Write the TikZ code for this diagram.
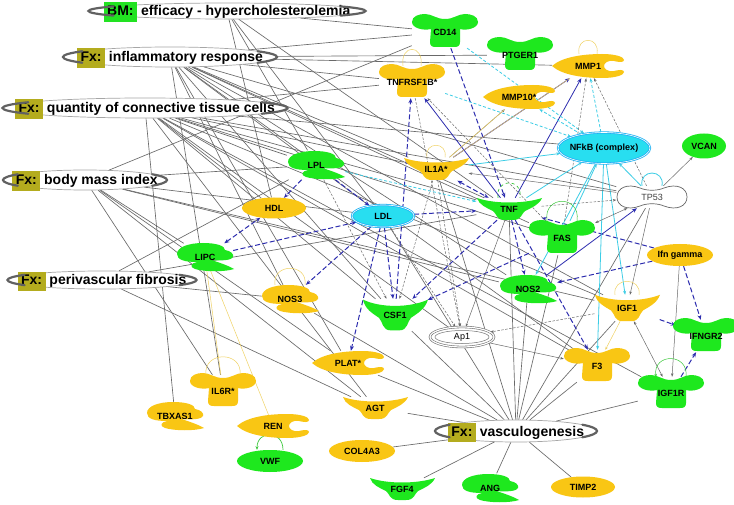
\documentclass[tikz,border=0pt]{standalone}
\usepackage{fontspec}
\setmainfont{Liberation Sans}
\usetikzlibrary{arrows.meta,shapes.geometric}
\pgfdeclarelayer{bg}\pgfdeclarelayer{edges}
\pgfsetlayers{bg,edges,main}
\definecolor{ipagreen}{RGB}{30,232,30}
\definecolor{ipayellow}{RGB}{249,198,20}
\definecolor{ipacyan}{RGB}{40,222,240}
\definecolor{fxolive}{RGB}{180,172,30}
\definecolor{bmgreen}{RGB}{34,226,34}
\definecolor{edgeblue}{RGB}{45,45,175}
\definecolor{edgecyan}{RGB}{60,205,230}
\definecolor{edgegray}{RGB}{105,105,105}
\definecolor{edgeyellow}{RGB}{240,210,100}
\definecolor{loopgreen}{RGB}{60,200,60}
\newcommand\molfont{\fontsize{9}{10}\selectfont\bfseries}
\newcommand\mollight{\fontsize{9}{10}\selectfont\mdseries\color{black!75}}
\newcommand\fxfont{\fontsize{14}{16}\selectfont\bfseries}
\newcommand\fxbox[2]{{\setlength{\fboxsep}{2.5pt}\colorbox{#1}{\hspace{1pt}\rule[-3.5pt]{0pt}{14.5pt}#2\hspace{1pt}}}}
\newcommand\fxtext[3]{\smash{\makebox[0pt]{\raisebox{-5pt}{\fxbox{#1}{#2}\ #3}}}}
\newcommand\fxends[3]{%
  \draw[fxend] (#1.center) ++(145:#2pt and #3pt) arc[start angle=145,end angle=215,x radius=#2pt,y radius=#3pt];
  \draw[fxend] (#1.center) ++(-35:#2pt and #3pt) arc[start angle=-35,end angle=35,x radius=#2pt,y radius=#3pt];}
\newcommand\mol[7]{%
  \pic at (#2) {#3={#4}};
  \node[lbl, minimum width=#6pt, minimum height=#7pt] (#1) at (#2) {\makebox[0pt]{#5}};}
\tikzset{
  pics/receptor/.style={code={\fill[#1] (-14,-3) .. controls (-22,-1) and (-33,-4) .. (-33,-10)
     .. controls (-33,-16) and (-26,-18) .. (-20,-18) .. controls (-13,-18) and (-9,-13) .. (0,-13)
     .. controls (9,-13) and (13,-18) .. (20,-18) .. controls (26,-18) and (33,-16) .. (33,-10)
     .. controls (33,-4) and (22,-1) .. (15,-3) -- (15,10) .. controls (15,14) and (13,15) .. (9,15)
     -- (-9,15) .. controls (-13,15) and (-15,14) .. (-15,10) -- cycle;}},
  pics/cytokine/.style={code={\fill[#1] (-32,-11) .. controls (-15,-5) and (15,-5) .. (33,-11)
     .. controls (30,-4) and (22,-1) .. (16,2) .. controls (12,5) and (13,11) .. (4,11)
     -- (-4,11) .. controls (-13,11) and (-12,5) .. (-16,2) .. controls (-22,-1) and (-30,-4) .. (-32,-11) -- cycle;}},
  pics/enzyme/.style={code={\fill[#1] (-28,-3) .. controls (-28,-10) and (-16,-14) .. (-2,-14)
     .. controls (12,-14) and (20,-11) .. (20,-7) .. controls (26,-6) and (29,-3) .. (28,0)
     .. controls (27,3) and (18,4) .. (6,3) .. controls (16,6) and (24,9) .. (29,12)
     .. controls (20,15) and (0,15) .. (-10,12) .. controls (-16,10) and (-14,6) .. (-8,5)
     .. controls (-20,5) and (-28,3) .. (-28,-3) -- cycle;}},
  pics/peptidase/.style={code={\fill[#1] (-36,0) .. controls (-26,-9) and (-5,-12) .. (14,-12)
     .. controls (28,-12) and (36,-9) .. (36,-6) .. controls (36,-3) and (30,-4) .. (26,-5)
     .. controls (20,-6) and (16,-3) .. (16,0) .. controls (16,3) and (20,6) .. (26,5)
     .. controls (30,4) and (36,3) .. (36,6) .. controls (36,9) and (28,12) .. (14,12)
     .. controls (-5,12) and (-26,9) .. (-36,0) -- cycle;}},
  pics/peanut/.style={code={\filldraw[fill=white, draw=black!60, line width=0.7pt]
     (-12,-9) .. controls (-25,-14) and (-35,-9) .. (-35,0) .. controls (-35,9) and (-25,14) .. (-12,9)
     .. controls (-5,6) and (5,6) .. (12,9) .. controls (25,14) and (35,9) .. (35,0)
     .. controls (35,-9) and (25,-14) .. (12,-9) .. controls (5,-6) and (-5,-6) .. (-12,-9) -- cycle;}},
  lbl/.style={rectangle, inner sep=0pt, font=\molfont, text=black},
  mell/.style={ellipse, inner sep=0pt, font=\molfont, text=black},
  cplx/.style={mell, fill=ipacyan, draw=ipacyan!80!blue, line width=0.8pt, double=white, double distance=0.6pt},
  fxell/.style={ellipse, draw=black!35, line width=0.7pt, fill=white, inner sep=0pt, font=\fxfont},
  fxend/.style={draw=black!62, line width=2.2pt, line cap=round},
  fnline/.style={draw=edgegray, line width=0.65pt},
  bdash/.style={draw=edgeblue, line width=1pt, dash pattern=on 5pt off 2.5pt, -{Stealth[length=5pt,width=4pt]}},
  bdboth/.style={bdash, {Stealth[length=5pt,width=4pt]}-{Stealth[length=5pt,width=4pt]}},
  bsolid/.style={draw=edgeblue, line width=0.8pt, -{Stealth[length=5pt,width=4pt]}},
  csolid/.style={draw=edgecyan, line width=0.8pt, -{Stealth[length=4pt,width=3pt]}},
  cdash/.style={csolid, dash pattern=on 3pt off 2pt},
  gdash/.style={draw=edgegray, line width=0.5pt, dash pattern=on 2.5pt off 1.5pt, -{Stealth[length=3.5pt,width=2.5pt]}},
  gsolid/.style={draw=edgegray, line width=0.5pt, -{Stealth[length=3.5pt,width=2.5pt]}},
  gboth/.style={gsolid, {Stealth[length=3.5pt,width=2.5pt]}-{Stealth[length=3.5pt,width=2.5pt]}},
  yline/.style={draw=edgeyellow, line width=0.5pt},
  gline/.style={draw=loopgreen, line width=0.7pt}
}
\begin{document}
\begin{tikzpicture}[x=1pt,y=-1pt]
\begin{pgfonlayer}{bg}\fill[white] (0,0) rectangle (734,505);\end{pgfonlayer}
\useasboundingbox (0,0) rectangle (734,505);
% ---------- function nodes
\node[fxell, minimum width=277pt, minimum height=16pt] (bm) at (227,11) {\fxtext{bmgreen}{BM:}{efficacy - hypercholesterolemia}};
\node[fxell, minimum width=214pt, minimum height=20pt] (inf) at (170,57) {\fxtext{fxolive}{Fx:}{inflammatory response}};
\node[fxell, minimum width=285pt, minimum height=20pt] (qty) at (145,108) {\fxtext{fxolive}{Fx:}{quantity of connective tissue cells}};
\node[fxell, minimum width=164pt, minimum height=20pt] (bmi) at (85,180) {\fxtext{fxolive}{Fx:}{body mass index}};
\node[fxell, minimum width=189pt, minimum height=18pt] (peri) at (102,280) {\fxtext{fxolive}{Fx:}{perivascular fibrosis}};
\node[fxell, minimum width=162pt, minimum height=22pt] (vasc) at (516,431) {\fxtext{fxolive}{Fx:}{vasculogenesis}};
\fxends{bm}{138.5}{8}\fxends{inf}{107}{10}\fxends{qty}{142.5}{10}
\fxends{bmi}{82}{10}\fxends{peri}{94.5}{9}\fxends{vasc}{81}{11}
% ---------- molecules
\mol{cd14}{445,32}{receptor}{ipagreen}{CD14}{66}{32}
\mol{ptger1}{520,55}{receptor}{ipagreen}{PTGER1}{66}{32}
\mol{tnfrsf}{412,82}{receptor}{ipayellow}{TNFRSF1B*}{66}{32}
\mol{mmp1}{588,66}{peptidase}{ipayellow}{MMP1}{72}{24}
\mol{mmp10}{519,97}{peptidase}{ipayellow}{MMP10*}{72}{24}
\node[cplx, minimum width=92pt, minimum height=31pt] (nfkb) at (604,148) {\makebox[0pt]{NFkB (complex)}};
\node[mell, fill=ipagreen, minimum width=44pt, minimum height=25pt] (vcan) at (704,146) {\makebox[0pt]{VCAN}};
\mol{tp53}{652,197}{peanut}{}{\mollight TP53}{71}{22}
\mol{il1a}{436,169}{cytokine}{ipayellow}{IL1A*}{65}{23}
\mol{lpl}{316,165}{enzyme}{ipagreen}{LPL}{58}{29}
\node[mell, fill=ipayellow, minimum width=64pt, minimum height=21pt] (hdl) at (274,208) {HDL};
\node[cplx, minimum width=62pt, minimum height=22pt] (ldl) at (383,216) {LDL};
\mol{tnf}{509,209}{cytokine}{ipagreen}{TNF}{65}{22}
\mol{fas}{562,238}{receptor}{ipagreen}{FAS}{66}{34}
\node[mell, fill=ipayellow, minimum width=66pt, minimum height=22pt] (ifng) at (680,255) {\makebox[0pt]{Ifn gamma}};
\mol{lipc}{205,257}{enzyme}{ipagreen}{LIPC}{56}{27}
\mol{nos3}{290,299}{enzyme}{ipayellow}{NOS3}{56}{28}
\mol{csf1}{395,315}{cytokine}{{ipagreen,yscale=1.4}}{CSF1}{65}{32}
\mol{nos2}{528,289}{enzyme}{ipagreen}{NOS2}{58}{28}
\mol{igf1}{627,308}{cytokine}{{ipayellow,yscale=1.2}}{IGF1}{65}{26}
\node[mell, fill=white, draw=black!55, line width=0.6pt, double=white, double distance=1.2pt, minimum width=64pt, minimum height=20pt, font=\mollight] (ap1) at (462,337) {Ap1};
\draw[black!55, line width=0.5pt] (ap1.center) ellipse[x radius=27pt, y radius=6.5pt];
\mol{ifngr2}{706,336}{receptor}{ipagreen}{IFNGR2}{60}{32}
\mol{f3}{597,366}{receptor}{ipayellow}{F3}{66}{32}
\mol{igf1r}{671,393}{receptor}{ipagreen}{IGF1R}{66}{32}
\mol{plat}{348,363}{peptidase}{ipayellow}{PLAT*}{72}{24}
\mol{il6r}{223,391}{receptor}{ipayellow}{IL6R*}{66}{32}
\mol{agt}{375,408}{cytokine}{ipayellow}{AGT}{65}{22}
\mol{tbxas1}{175,416}{enzyme}{ipayellow}{TBXAS1}{56}{28}
\mol{ren}{273,426}{peptidase}{ipayellow}{REN}{72}{22}
\node[mell, fill=ipagreen, minimum width=66pt, minimum height=22pt] (vwf) at (270,461) {VWF};
\node[mell, fill=ipayellow, minimum width=66pt, minimum height=22pt] (col4a3) at (362,451) {\makebox[0pt]{COL4A3}};
\mol{fgf4}{402,489}{cytokine}{ipagreen}{FGF4}{65}{22}
\mol{ang}{490,488}{enzyme}{ipagreen}{ANG}{60}{29}
\node[mell, fill=ipayellow, minimum width=64pt, minimum height=21pt] (timp2) at (583,487) {\makebox[0pt]{TIMP2}};
% ---------- connectors
\begin{pgfonlayer}{edges}
\foreach \t in {cd14,hdl,lpl,tnf,ldl} \draw[fnline] (bm) -- (\t);
\foreach \t in {cd14,ptger1,tnfrsf,il1a,tnf,fas,nos2,csf1,nos3,igf1,f3,il6r,mmp1,ldl,tp53,plat} \draw[fnline] (inf) -- (\t);
\foreach \t in {tnfrsf,il1a,tnf,fas,igf1,csf1,lpl,hdl,tbxas1,agt,f3,igf1r,tp53,nfkb,ap1} \draw[fnline] (qty) -- (\t);
\foreach \t in {cd14,lpl,ldl,nos2,agt,il6r,lipc,igf1,plat} \draw[fnline] (bmi) -- (\t);
\foreach \t in {nos3,agt,tnf,lpl} \draw[fnline] (peri) -- (\t);
\foreach \t in {agt,col4a3,fgf4,ang,timp2,igf1r,f3,igf1,nos2,tnf,fas,csf1,nos3,plat,ldl,il1a,tp53} \draw[fnline] (vasc) -- (\t);
% blue
\draw[bdash] (cd14) -- (tnf);
\draw[bdash] (csf1) -- (tnfrsf);
\draw[bdboth] (il1a) -- (tnf);
\draw[bdash] (ldl) -- (tnf);
\draw[bdash] (lpl) -- (ldl);
\draw[bdash] (lpl) -- (hdl);
\draw[bdboth] (lipc) -- (hdl);
\draw[bdash] (lipc) -- (ldl);
\draw[bdash] (ldl) -- (nos3);
\draw[bdash] (ldl) -- (plat);
\draw[bdash] (ldl) -- (csf1);
\draw[bdash] (tnf) -- (csf1);
\draw[bdash] (fas) -- (csf1);
\draw[bdash] (tnf) -- (nos2);
\draw[bdash] (tnf) -- (f3);
\draw[bdash] (ifng) -- (tnf);
\draw[bdash] (ifng) -- (nos2);
\draw[bdash] (ifng) -- (ifngr2);
\draw[bdash] (igf1) -- (ifngr2);
\draw[bdash] (igf1r) -- (ifngr2);
\draw[bsolid] (tnf) -- (tnfrsf);
\draw[bsolid] (tnf) -- (mmp1);
\draw[bsolid] (il1a) -- (mmp1);
\draw[bsolid] (nos2) -- (tp53);
% cyan
\draw[csolid] (il1a) -- (nfkb);
\draw[csolid] (tnf) -- (nfkb);
\draw[cdash] (cd14) -- (nfkb);
\draw[cdash] (tnfrsf) -- (nfkb);
\draw[cdash] (nfkb) -- (mmp1);
\draw[cdash] (nfkb) -- (mmp10);
\draw[cdash] (lpl) -- (tnf);
\draw[csolid] (nfkb) -- (f3);
\draw[csolid] (nfkb) -- (igf1);
\draw[csolid] (nfkb) -- (nos2);
\draw[csolid] (tp53) -- (nfkb);
\draw[csolid] (fas) -- (nfkb);
% gray
\draw[gdash] (il1a) -- (ap1);
\draw[gdash] (ldl) -- (ap1);
\draw[gdash] (tnfrsf) -- (ap1);
\draw[gdash] (lpl) -- (csf1);
\draw[gdash] (il1a) -- (csf1);
\draw[gdash] (igf1) -- (ap1);
\draw[gdash] (tnf) -- (tp53);
\draw[gdash] (tp53) -- (mmp1);
\draw[gdash] (fas) -- (mmp1);
\draw[gdash] (fas) -- (tnfrsf);
\draw[gsolid] (tnf) -- (ap1);
\draw[gsolid] (ap1) -- (f3);
\draw[gsolid] (tp53) -- (il1a);
\draw[gsolid] (tp53) -- (vcan);
\draw[gboth] (fas) -- (tp53);
\draw[gboth] (igf1) -- (igf1r);
\draw[gsolid] (ifng) -- (igf1r);
\draw[gsolid] (tp53) -- (igf1);
\draw[gsolid] (il1a) -- (mmp10);
% yellow
\draw[yline] (il1a) -- (mmp1);
\draw[yline] (il1a) -- (mmp10);
\draw[yline, -{Stealth[length=3pt,width=2.5pt]}] (igf1) -- (f3);
\draw[yline] (lipc) -- (ren);
\draw[yline] (lipc) -- (il6r);
% loops
\draw[yline] ([xshift=-9pt]tnfrsf.north) .. controls +(-3,-22) and +(3,-22) .. ([xshift=9pt]tnfrsf.north);
\draw[yline] ([xshift=-9pt]mmp1.north) .. controls +(-3,-18) and +(3,-18) .. ([xshift=9pt]mmp1.north);
\draw[yline] ([xshift=-9pt]il1a.north) .. controls +(-3,-16) and +(3,-16) .. ([xshift=9pt]il1a.north);
\draw[gline, dashed] ([xshift=-11pt]tnf.north) .. controls +(-3,-20) and +(3,-20) .. ([xshift=11pt]tnf.north);
\draw[gline, line width=0.5pt] ([xshift=-15pt]fas.north) .. controls +(-4,-26) and +(4,-26) .. ([xshift=15pt]fas.north);
\draw[draw=edgecyan, line width=0.8pt] ([xshift=-10pt]tp53.north) .. controls +(-3,-17) and +(3,-17) .. ([xshift=10pt]tp53.north);
\draw[yline] ([xshift=-15pt]nos3.north) .. controls +(-3,-22) and +(3,-22) .. ([xshift=15pt]nos3.north);
\draw[yline] ([xshift=-17pt]il6r.north) .. controls +(-3,-24) and +(3,-24) .. ([xshift=17pt]il6r.north);
\draw[yline] ([xshift=-12pt]igf1.north) .. controls +(-3,-18) and +(3,-18) .. ([xshift=12pt]igf1.north);
\draw[gline, line width=0.5pt, -{Stealth[length=3pt,width=2.5pt]}] ([xshift=15pt]igf1r.north) .. controls +(3,-24) and +(-3,-24) .. ([xshift=-15pt]igf1r.north);
\draw[gline, -{Stealth[length=3.5pt,width=3pt]}] ([xshift=13pt]vwf.north) .. controls +(0,-20) and +(0,-20) .. ([xshift=-13pt]vwf.north);
\end{pgfonlayer}
\end{tikzpicture}
\end{document}
